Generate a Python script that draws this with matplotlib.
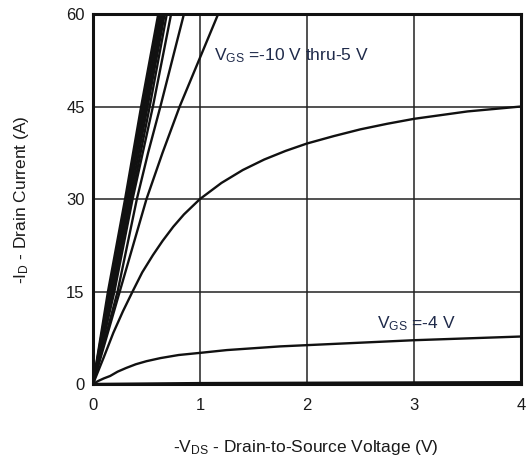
import matplotlib
matplotlib.use("Agg")
import matplotlib.pyplot as plt
import numpy as np

plt.rcParams['font.family'] = ['Liberation Sans', 'DejaVu Sans']
plt.rcParams['mathtext.default'] = 'regular'

# Drain current levels at which the steep (VGS = -10 V ... -5 V) lines are read
I_levels = [0, 7.5, 15, 22.5, 30, 37.5, 45, 52.5, 60]
# Drain-to-source voltage at each current level, one list per steep curve
V_steep = [
    [0, 0.07, 0.14, 0.22, 0.300, 0.375, 0.450, 0.530, 0.610],
    [0, 0.075, 0.15, 0.23, 0.310, 0.388, 0.465, 0.545, 0.625],
    [0, 0.08, 0.16, 0.24, 0.320, 0.400, 0.480, 0.560, 0.640],
    [0, 0.085, 0.17, 0.25, 0.330, 0.412, 0.495, 0.575, 0.655],
    [0, 0.09, 0.18, 0.26, 0.345, 0.428, 0.510, 0.590, 0.670],
    [0, 0.095, 0.19, 0.275, 0.360, 0.445, 0.530, 0.610, 0.690],
    [0, 0.10, 0.20, 0.285, 0.370, 0.465, 0.560, 0.645, 0.730],
    [0, 0.115, 0.23, 0.320, 0.410, 0.515, 0.630, 0.740, 0.850],
    [0, 0.125, 0.25, 0.375, 0.500, 0.650, 0.810, 0.990, 1.170],
]

# VGS = -4.5 V curve
V_45 = [0, 0.10, 0.19, 0.28, 0.37, 0.46, 0.56, 0.65, 0.75, 0.85, 1.0, 1.2, 1.4,
        1.6, 1.8, 2.0, 2.25, 2.5, 2.75, 3.0, 3.25, 3.5, 3.75, 4.0]
I_45 = [0, 4.3, 8.3, 11.8, 15.0, 18.1, 20.9, 23.2, 25.5, 27.5, 30.0, 32.6, 34.7,
        36.4, 37.8, 39.0, 40.2, 41.3, 42.2, 43.0, 43.6, 44.2, 44.6, 45.0]

# VGS = -4 V curve
V_4 = [0, 0.05, 0.10, 0.16, 0.23, 0.31, 0.40, 0.50, 0.63, 0.80, 1.03, 1.25, 1.5,
       1.75, 2.0, 2.5, 3.0, 3.5, 4.0]
I_4 = [0, 0.5, 0.9, 1.3, 2.0, 2.6, 3.2, 3.7, 4.2, 4.7, 5.1, 5.5, 5.8,
       6.1, 6.3, 6.7, 7.1, 7.4, 7.7]

# VGS = -3.5 V curve (near zero)
V_35 = [0, 1.0, 2.0, 3.0, 4.0]
I_35 = [0, 0.15, 0.2, 0.25, 0.3]

x_ticks = [0, 1, 2, 3, 4]
y_ticks = [0, 15, 30, 45, 60]

fig = plt.figure(figsize=(5.27, 4.61), dpi=100)
ax = fig.add_axes([93/527, 1-384/461, (521-93)/527, (384-14)/461])

lw = 1.7
for v in V_steep:
    ax.plot(v, I_levels, color='#111111', lw=lw, solid_joinstyle='round')
ax.plot(V_45, I_45, color='#111111', lw=lw, solid_joinstyle='round')
ax.plot(V_4, I_4, color='#111111', lw=lw, solid_joinstyle='round')
ax.plot(V_35, I_35, color='#111111', lw=lw)

ax.set_xlim(0, 4)
ax.set_ylim(0, 60)
ax.set_xticks(x_ticks)
ax.set_yticks(y_ticks)
ax.grid(True, color='#222222', lw=1.1)
ax.set_axisbelow(True)
for s in ax.spines.values():
    s.set_linewidth(2.2)
    s.set_color('#111111')
ax.tick_params(length=0, labelsize=12, colors='#1a1a1a')
ax.tick_params(axis='x', pad=10)
ax.tick_params(axis='y', pad=6)

fig.text(306/527, 1-447/461, '-V$_{DS}$ - Drain-to-Source Voltage (V)',
         ha='center', va='center', fontsize=12.5, color='#1a1a1a')
fig.text(22/527, 1-200/461, '-I$_{D}$ - Drain Current (A)', rotation=90,
         ha='center', va='center', fontsize=12.5, color='#1a1a1a')

ax.text(1.13, 53.2, 'V$_{GS}$ =-10 V thru-5 V', fontsize=12.5,
        color='#1f2a4a', ha='left', va='center')
ax.text(2.65, 9.8, 'V$_{GS}$ =-4 V', fontsize=12.5,
        color='#1f2a4a', ha='left', va='center')

fig.savefig('out.png', dpi=100)
